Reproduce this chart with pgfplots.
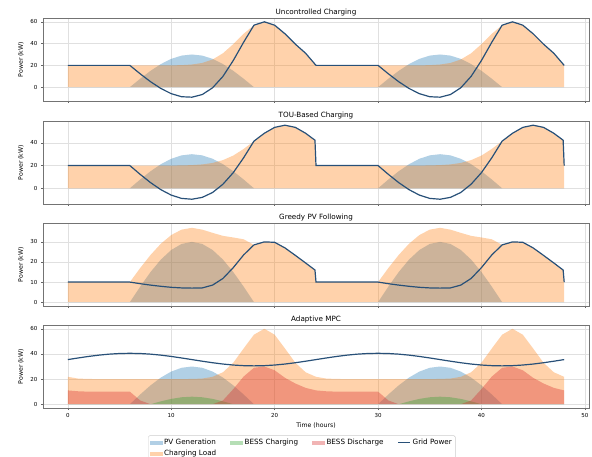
\documentclass[border=0pt]{standalone}
\usepackage{pgfplots}
\pgfplotsset{compat=1.18}
\usepackage{pgfplotstable}
\usepackage{fontspec}
\setmainfont{DejaVu Sans}
\definecolor{cpv}{RGB}{31,119,180}
\definecolor{cload}{RGB}{255,127,14}
\definecolor{cchg}{RGB}{44,160,44}
\definecolor{cdis}{RGB}{214,39,40}
\definecolor{cgrid}{RGB}{40,80,120}
\colorlet{lpv}{cpv!35!white}
\colorlet{lload}{cload!35!white}
\colorlet{lchg}{cchg!35!white}
\colorlet{ldis}{cdis!35!white}

% Uncontrolled
\pgfplotstableread{
h pv load grid
0 0 20 20
1 0 20 20
2 0 20 20
3 0 20 20
4 0 20 20
5 0 20 20
6 0 20 20
7 7.76 20 12.24
8 15.00 20 5.00
9 21.21 20 -1.21
10 25.98 20 -5.98
11 28.98 20.2 -8.78
12 30.00 20.8 -9.20
13 28.98 22.2 -6.78
14 25.98 25.4 -0.58
15 21.21 31.1 9.89
16 15.00 39.5 24.50
17 7.76 49.0 41.24
18 0 56.9 56.9
19 0 60.0 60.0
20 0 56.9 56.9
21 0 49.0 49.0
22 0 39.5 39.5
23 0 31.1 31.1
24 0 20 20
25 0 20 20
26 0 20 20
27 0 20 20
28 0 20 20
29 0 20 20
30 0 20 20
31 7.76 20 12.24
32 15.00 20 5.00
33 21.21 20 -1.21
34 25.98 20 -5.98
35 28.98 20.2 -8.78
36 30.00 20.8 -9.20
37 28.98 22.2 -6.78
38 25.98 25.4 -0.58
39 21.21 31.1 9.89
40 15.00 39.5 24.50
41 7.76 49.0 41.24
42 0 56.9 56.9
43 0 60.0 60.0
44 0 56.9 56.9
45 0 49.0 49.0
46 0 39.5 39.5
47 0 31.1 31.1
48 0 20 20
}\tabA

% TOU
\pgfplotstableread{
h pv load grid
0 0 20 20
1 0 20 20
2 0 20 20
3 0 20 20
4 0 20 20
5 0 20 20
6 0 20 20
7 7.76 20 12.24
8 15.00 20 5.00
9 21.21 20 -1.21
10 25.98 20 -5.98
11 28.98 20.1 -8.88
12 30.00 20.4 -9.60
13 28.98 21.0 -7.98
14 25.98 22.3 -3.68
15 21.21 24.8 3.59
16 15.00 28.8 13.80
17 7.76 34.6 26.84
18 0 41.5 41.5
19 0 48.4 48.4
20 0 53.6 53.6
21 0 55.5 55.5
22 0 53.6 53.6
23 0 48.4 48.4
23.9 0 42.3 42.3
24 0 20 20
25 0 20 20
26 0 20 20
27 0 20 20
28 0 20 20
29 0 20 20
30 0 20 20
31 7.76 20 12.24
32 15.00 20 5.00
33 21.21 20 -1.21
34 25.98 20 -5.98
35 28.98 20.1 -8.88
36 30.00 20.4 -9.60
37 28.98 21.0 -7.98
38 25.98 22.3 -3.68
39 21.21 24.8 3.59
40 15.00 28.8 13.80
41 7.76 34.6 26.84
42 0 41.5 41.5
43 0 48.4 48.4
44 0 53.6 53.6
45 0 55.5 55.5
46 0 53.6 53.6
47 0 48.4 48.4
47.9 0 42.3 42.3
48 0 20 20
}\tabB

% Greedy PV
\pgfplotstableread{
h pv load grid
0 0 10 10
1 0 10 10
2 0 10 10
3 0 10 10
4 0 10 10
5 0 10 10
6 0 10 10
7 7.76 17.0 9.2
8 15.00 23.5 8.5
9 21.21 29.1 7.9
10 25.98 33.4 7.4
11 28.98 36.1 7.1
12 30.00 37.0 7.0
13 28.98 36.1 7.1
14 25.98 34.5 8.5
15 21.21 33.0 11.8
16 15.00 32.2 17.2
17 7.76 31.3 23.5
18 0 28.5 28.5
19 0 30.0 30.0
20 0 29.8 29.8
21 0 27.0 27.0
22 0 23.3 23.3
23 0 19.5 19.5
23.9 0 16.0 16.0
24 0 10 10
25 0 10 10
26 0 10 10
27 0 10 10
28 0 10 10
29 0 10 10
30 0 10 10
31 7.76 17.0 9.2
32 15.00 23.5 8.5
33 21.21 29.1 7.9
34 25.98 33.4 7.4
35 28.98 36.1 7.1
36 30.00 37.0 7.0
37 28.98 36.1 7.1
38 25.98 34.5 8.5
39 21.21 33.0 11.8
40 15.00 32.2 17.2
41 7.76 31.3 23.5
42 0 28.5 28.5
43 0 30.0 30.0
44 0 29.8 29.8
45 0 27.0 27.0
46 0 23.3 23.3
47 0 19.5 19.5
47.9 0 16.0 16.0
48 0 10 10
}\tabC

% Adaptive MPC
\pgfplotstableread{
h pv load chg dis grid
0 0 21.8 0 11.0 35.50
1 0 20.4 0 10.3 36.79
2 0 20.1 0 10 38.00
3 0 20 0 10 39.04
4 0 20 0 10 39.83
5 0 20 0 10 40.33
6 0 20 0 10 40.50
7 7.76 20 0 3 40.33
8 15.00 20 0 0 39.83
9 21.21 20 2.30 0 39.04
10 25.98 20 4.24 0 38.00
11 28.98 20 5.54 0 36.79
12 30.00 20.1 6.00 0 35.50
13 28.98 20.4 5.54 0 34.21
14 25.98 21.8 4.24 0 33.00
15 21.21 25.4 2.30 3 31.96
16 15.00 33.0 0 12 31.17
17 7.76 44.3 0 22 30.67
18 0 55.3 0 29 30.50
19 0 60.0 0 30 30.67
20 0 55.3 0 27 31.17
21 0 44.3 0 21 31.96
22 0 33.0 0 16.5 33.00
23 0 25.4 0 13 34.21
24 0 21.8 0 11.0 35.50
25 0 20.4 0 10.3 36.79
26 0 20.1 0 10 38.00
27 0 20 0 10 39.04
28 0 20 0 10 39.83
29 0 20 0 10 40.33
30 0 20 0 10 40.50
31 7.76 20 0 3 40.33
32 15.00 20 0 0 39.83
33 21.21 20 2.30 0 39.04
34 25.98 20 4.24 0 38.00
35 28.98 20 5.54 0 36.79
36 30.00 20.1 6.00 0 35.50
37 28.98 20.4 5.54 0 34.21
38 25.98 21.8 4.24 0 33.00
39 21.21 25.4 2.30 3 31.96
40 15.00 33.0 0 12 31.17
41 7.76 44.3 0 22 30.67
42 0 55.3 0 29 30.50
43 0 60.0 0 30 30.67
44 0 55.3 0 27 31.17
45 0 44.3 0 21 31.96
46 0 33.0 0 16.5 33.00
47 0 25.4 0 13 34.21
48 0 21.8 0 11.0 35.50
}\tabD

\pgfplotsset{
  panel/.style={
    scale only axis, width=546pt, height=83pt,
    anchor=north west,
    xmin=-2.4, xmax=50.4,
    xtick={0,10,20,30,40,50},
    tick pos=left, tick align=outside, major tick length=2pt,
    grid=major, grid style={black!12, line width=0.35pt},
    axis line style={black!55, line width=0.5pt},
    tick style={black!60, line width=0.4pt},
    tick label style={font=\fontsize{5.5}{6}\selectfont},
    /pgf/number format/assume math mode=true,
    ylabel={Power (kW)}, ylabel style={font=\fontsize{6.2}{7}\selectfont},
    xlabel style={font=\fontsize{6.2}{7}\selectfont},
    title style={font=\fontsize{7.2}{8}\selectfont, yshift=-7.5pt},
  },
  pvfill/.style={draw=none, fill=cpv, fill opacity=0.35, forget plot},
  loadfill/.style={draw=none, fill=cload, fill opacity=0.35, forget plot},
  chgfill/.style={draw=none, fill=cchg, fill opacity=0.35, forget plot},
  disfill/.style={draw=none, fill=cdis, fill opacity=0.35, forget plot},
  gridline/.style={cgrid, line width=1.2pt, no marks, forget plot},
}

\begin{document}
\begin{tikzpicture}
\useasboundingbox (0pt,0pt) rectangle (592pt,456pt);

\begin{axis}[panel, at={(43pt,438pt)}, ymin=-12.7, ymax=63.5, ytick={0,20,40,60},
  xticklabels={}, title={Uncontrolled Charging}]
\addplot[pvfill] table[x=h,y=pv]{\tabA} \closedcycle;
\addplot[loadfill] table[x=h,y=load]{\tabA} \closedcycle;
\addplot[gridline] table[x=h,y=grid]{\tabA};
\end{axis}

\begin{axis}[panel, at={(43pt,335pt)}, ymin=-13.8, ymax=59.2, ytick={0,20,40},
  xticklabels={}, title={TOU-Based Charging}]
\addplot[pvfill] table[x=h,y=pv]{\tabB} \closedcycle;
\addplot[loadfill] table[x=h,y=load]{\tabB} \closedcycle;
\addplot[gridline] table[x=h,y=grid]{\tabB};
\end{axis}

\begin{axis}[panel, at={(43pt,233pt)}, ymin=-1.9, ymax=39.4, ytick={0,10,20,30},
  xticklabels={}, title={Greedy PV Following}]
\addplot[pvfill] table[x=h,y=pv]{\tabC} \closedcycle;
\addplot[loadfill] table[x=h,y=load]{\tabC} \closedcycle;
\addplot[gridline] table[x=h,y=grid]{\tabC};
\end{axis}

\begin{axis}[panel, at={(43pt,131pt)}, ymin=-3, ymax=63, ytick={0,20,40,60},
  title={Adaptive MPC}, xlabel={Time (hours)},
  xlabel style={yshift=2pt},
  legend columns=4,
  legend cell align=left,
  legend style={at={(0.474,-0.33)}, anchor=north,
    font=\fontsize{7.2}{8.5}\selectfont, draw=black!20, rounded corners=1.5pt,
    inner sep=1.5pt,
    /tikz/every even column/.append style={column sep=12pt}}]
\addlegendimage{legend image code/.code={\fill[lpv, sharp corners] (0pt,-1.6pt) rectangle (12pt,1.6pt);}}
\addlegendentry{PV Generation}
\addlegendimage{legend image code/.code={\fill[lchg, sharp corners] (0pt,-1.6pt) rectangle (12pt,1.6pt);}}
\addlegendentry{BESS Charging}
\addlegendimage{legend image code/.code={\fill[ldis, sharp corners] (0pt,-1.6pt) rectangle (12pt,1.6pt);}}
\addlegendentry{BESS Discharge}
\addlegendimage{legend image code/.code={\draw[cgrid, line width=1.2pt, sharp corners] (0pt,0pt) -- (12pt,0pt);}}
\addlegendentry{Grid Power}
\addlegendimage{legend image code/.code={\fill[lload, sharp corners] (0pt,-1.6pt) rectangle (12pt,1.6pt);}}
\addlegendentry{Charging Load}
\addplot[pvfill] table[x=h,y=pv]{\tabD} \closedcycle;
\addplot[loadfill] table[x=h,y=load]{\tabD} \closedcycle;
\addplot[chgfill] table[x=h,y=chg]{\tabD} \closedcycle;
\addplot[disfill] table[x=h,y=dis]{\tabD} \closedcycle;
\addplot[gridline] table[x=h,y=grid]{\tabD};
\end{axis}
\end{tikzpicture}
\end{document}
